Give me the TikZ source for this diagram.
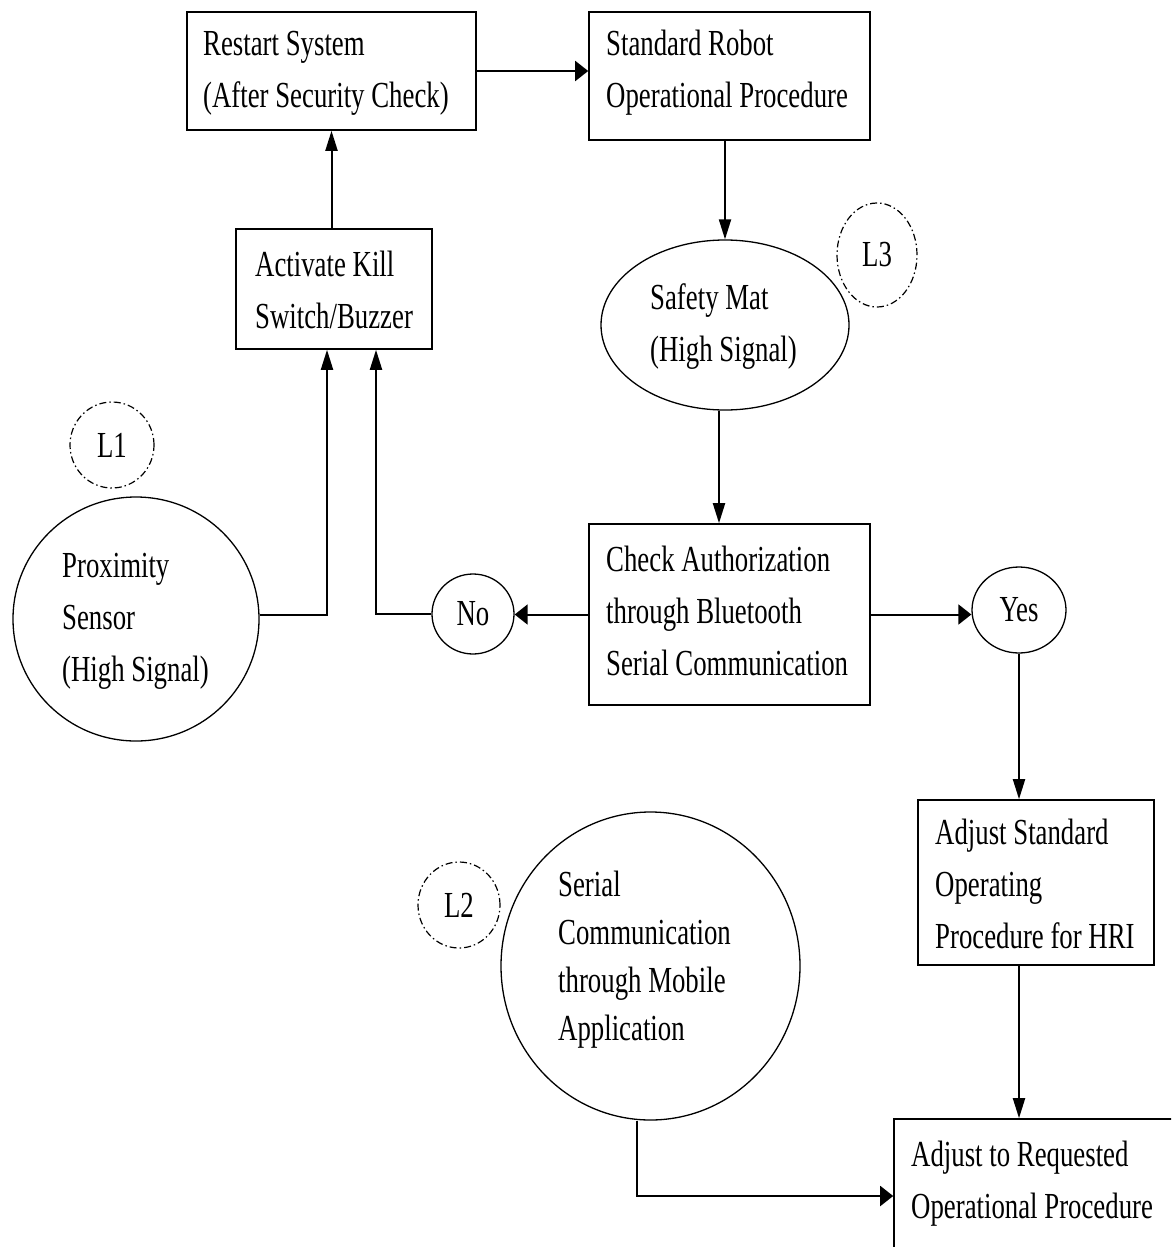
\documentclass[tikz,border=0pt]{standalone}
\usepackage{fontspec}
\setmainfont{Liberation Serif}[FakeStretch=0.73]
\usetikzlibrary{shapes.geometric,arrows.meta}

\newcommand{\diagfont}[1]{\fontsize{36.7}{#1}\selectfont}
\newcommand{\tightspaces}{\raggedright\spaceskip=6.7pt plus 2pt minus 1pt\relax}

\begin{document}
\begin{tikzpicture}[x=1pt,y=-1pt,
  box/.style={draw, line width=1.6pt, rectangle, inner sep=0pt},
  oval/.style={draw, line width=1.3pt, ellipse, inner sep=0pt,
    font=\diagfont{52}},
  tag/.style={draw, line width=1.2pt, ellipse, inner sep=0pt,
    dash pattern=on 7pt off 3pt on 1.5pt off 3pt,
    font=\diagfont{52}},
  txt/.style={anchor=base west, inner sep=0pt, text width=330pt,
    font=\diagfont{52}, execute at begin node=\tightspaces},
  link/.style={line width=2pt},
  hto/.style={link, -{Triangle[length=13pt,width=20pt]}},
  vto/.style={link, -{Triangle[length=20pt,width=12pt]}},
]
\useasboundingbox (0,0) rectangle (1171,1247);
\clip (0,0) rectangle (1171,1247);

% process boxes
\node[box, minimum width=289pt, minimum height=118pt] (restart) at (331.5,71) {};
\node[box, minimum width=281pt, minimum height=128pt] (standard) at (729.5,76) {};
\node[box, minimum width=196pt, minimum height=120pt] (activate) at (334,289) {};
\node[box, minimum width=281pt, minimum height=181pt] (check) at (729.5,614.5) {};
\node[box, minimum width=236pt, minimum height=165pt] (adjust) at (1036,882.5) {};
\node[box, minimum width=300pt, minimum height=154pt] (req) at (1044,1196) {};

% sensors and decisions
\node[oval, minimum width=248pt, minimum height=170pt] (safety) at (725,325) {};
\node[oval, minimum width=246pt, minimum height=244pt] (prox) at (136,619) {};
\node[oval, minimum width=299pt, minimum height=308pt] (serial) at (650.5,966) {};
\node[oval, minimum width=82pt, minimum height=80pt] (no) at (473,614) {No};
\node[oval, minimum width=94pt, minimum height=86pt] (yes) at (1019,610) {Yes};

% layer tags
\node[tag, minimum width=84pt, minimum height=86pt] (l1) at (112,445) {L1};
\node[tag, minimum width=82pt, minimum height=86pt] (l2) at (459,905) {L2};
\node[tag, minimum width=80pt, minimum height=104pt] (l3) at (877,255) {L3};

% texts
\node[txt] (restart-t) at (203,56) {Restart System\\(After Security Check)};
\node[txt] (standard-t) at (606,56) {Standard Robot\\Operational Procedure};
\node[txt] (activate-t) at (255,276) {Activate Kill\\Switch/Buzzer};
\node[txt] (safety-t) at (650,309) {Safety Mat\\(High Signal)};
\node[txt] (prox-t) at (62,577) {Proximity\\Sensor\\(High Signal)};
\node[txt] (check-t) at (606,571) {Check Authorization\\through Bluetooth\\Serial Communication};
\node[txt] (adjust-t) at (935,844) {Adjust Standard\\Operating\\Procedure for HRI};
\node[txt] (req-t) at (911,1166) {Adjust to Requested\\Operational Procedure};
\node[txt, font=\diagfont{48}] (serial-t) at (558,896)
  {Serial\\Communication\\through Mobile\\Application};

% connectors
\draw[hto] (restart.east) -- (restart.east -| standard.west);
\draw[vto] (restart.south |- activate.north) -- (restart.south);
\draw[vto] (safety.north |- standard.south) -- (safety.north);
\draw[vto] ([xshift=-6pt]safety.south) -- ([xshift=-6pt]safety.south |- check.north);
\draw[hto] (check.west) -- (check.west -| no.east);
\draw[vto] (no.west) -| ([xshift=42pt]activate.south);
\draw[vto] ([yshift=4pt]prox.east) -| ([xshift=-7pt]activate.south);
\draw[hto] (check.east) -- (check.east -| yes.west);
\draw[vto] (yes.south) -- (yes.south |- adjust.north);
\draw[vto] (yes.south |- adjust.south) -- (yes.south |- req.north);
\draw[hto] ([xshift=-13.5pt]serial.south) |- (req.west);
\end{tikzpicture}
\end{document}
